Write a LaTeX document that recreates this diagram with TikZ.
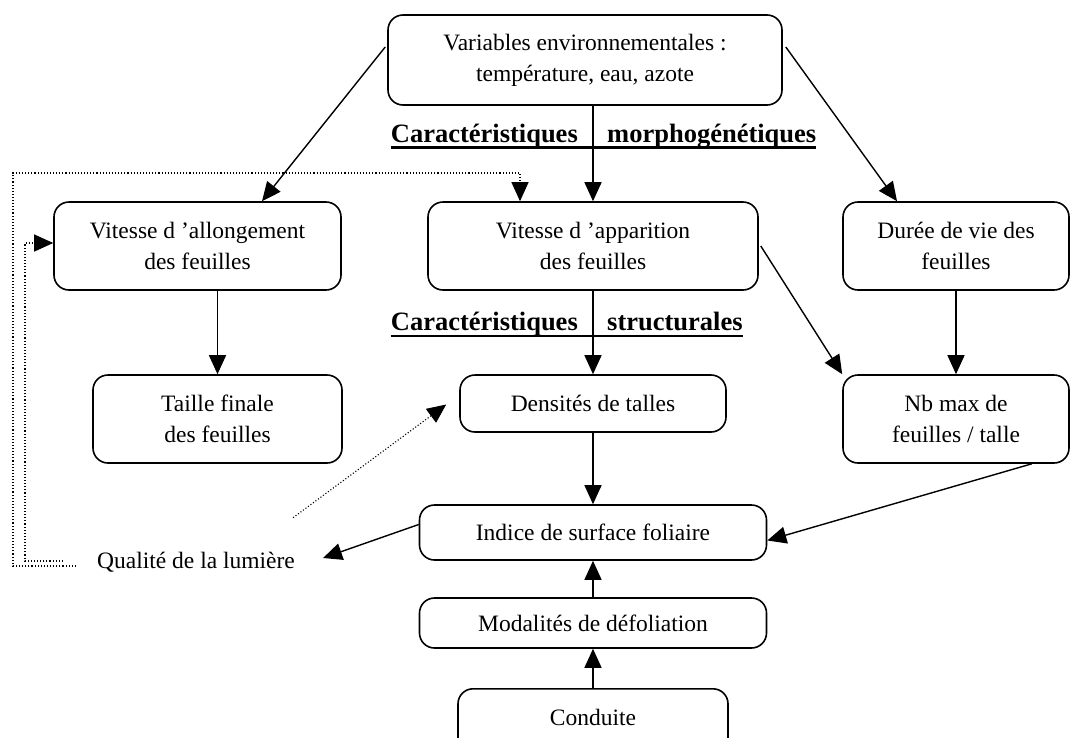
\documentclass[tikz,border=0pt]{standalone}
\usepackage{fontspec}
\setmainfont{Liberation Serif}
\usetikzlibrary{arrows.meta,calc}
\begin{document}
\begin{tikzpicture}[x=1pt,y=-1pt,
  box/.style={draw, line width=1.6pt, rounded corners=15pt, inner sep=0pt, align=center,
    font=\fontsize{23.5}{31}\selectfont},
  flow/.style={line width=1.4pt, -{Triangle[length=19pt,width=17pt]}},
  dotflow/.style={line width=1.1pt, dash pattern=on 1.1pt off 2pt, -{Triangle[length=19pt,width=17pt]}},
  head/.style={inner sep=0pt, font=\fontsize{26.5}{31}\selectfont\bfseries},
  plain/.style={inner sep=0pt, font=\fontsize{23.5}{31}\selectfont},
  rule/.style={line width=2.3pt}]
\useasboundingbox (0,0) rectangle (1074,737);

% boxes
\node[box, minimum width=394pt, minimum height=90pt] (env) at (585,60)
  {Variables environnementales :\\température, eau, azote};
\node[box, minimum width=287pt, minimum height=88pt] (allong) at (197.5,246)
  {Vitesse d ’allongement\\des feuilles};
\node[box, minimum width=330pt, minimum height=88pt] (appar) at (593,246)
  {Vitesse d ’apparition\\des feuilles};
\node[box, minimum width=226pt, minimum height=88pt] (duree) at (956,246)
  {Durée de vie des\\feuilles};
\node[box, minimum width=249pt, minimum height=88pt] (taille) at (217.5,419)
  {Taille finale\\des feuilles};
\node[box, minimum width=266pt, minimum height=57pt] (dens) at (593,403.5)
  {Densités de talles};
\node[box, minimum width=226pt, minimum height=88pt] (nbmax) at (956,419)
  {Nb max de\\feuilles / talle};
\node[box, minimum width=347pt, minimum height=55pt] (indice) at (593,532.5)
  {Indice de surface foliaire};
\node[box, minimum width=347pt, minimum height=50pt] (modal) at (593,623)
  {Modalités de défoliation};
\node[box, minimum width=270pt, text height=17pt, text depth=15pt, inner ysep=20pt,
  anchor=north] (cond) at (593,688) {Conduite};
\node[plain, inner xsep=28pt] (qual) at (196,562) {Qualité de la lumière};

% section headings
\node[head, anchor=base east] (morA) at (578,142) {Caractéristiques};
\node[head, anchor=base west] (morB) at (607,142) {morphogénétiques};
\draw[rule] ($(morA.base west)+(0,5.5)$) -- ($(morB.base east)+(0,5.5)$);
\node[head, anchor=base east] (strA) at (578,330) {Caractéristiques};
\node[head, anchor=base west] (strB) at (607,330) {structurales};
\draw[rule] ($(strA.base west)+(0,6)$) -- ($(strB.base east)+(0,6)$);

% influences
\draw[flow] ($(env.west)+(-2,-13)$) -- ($(allong.north)+(64.5,0)$);
\draw[flow] ($(env.east)+(3,-13)$) -- ($(duree.north)+(-59,0)$);
\draw[flow] (appar.north |- env.south) -- (appar.north);
\draw[flow] (taille.north |- allong.south) -- (taille.north);
\draw[flow] (appar.south) -- (appar.south |- dens.north);
\draw[flow] (duree.south) -- (nbmax.north);
\draw[flow] ($(appar.east)+(2,0)$) -- (nbmax.north west);
\draw[flow] (dens.south) -- (dens.south |- indice.north);
\draw[flow] (modal.north) -- (indice.south);
\draw[flow] (cond.north) -- (modal.south);
\draw[flow] ($(nbmax.south east)+(-38,0)$) -- ($(indice.east)+(0,8)$);
\draw[flow] ($(indice.west)+(0,-8)$) -- ($(qual.east)+(0,-4)$);

% light-quality feedbacks
\coordinate (railL) at (13,173);
\coordinate (railI) at (25,243);
\draw[dotflow] ($(qual.west)+(7,4)$) -| (railL) -| ($(appar.north)+(-73,0)$);
\draw[dotflow] ($(qual.west)+(-6,-1)$) -| (railI) -- (allong.west |- railI);
\draw[dotflow] ($(qual.north east)+(-30,-34)$) -- ($(dens.west)+(-13,1)$);
\end{tikzpicture}
\end{document}
